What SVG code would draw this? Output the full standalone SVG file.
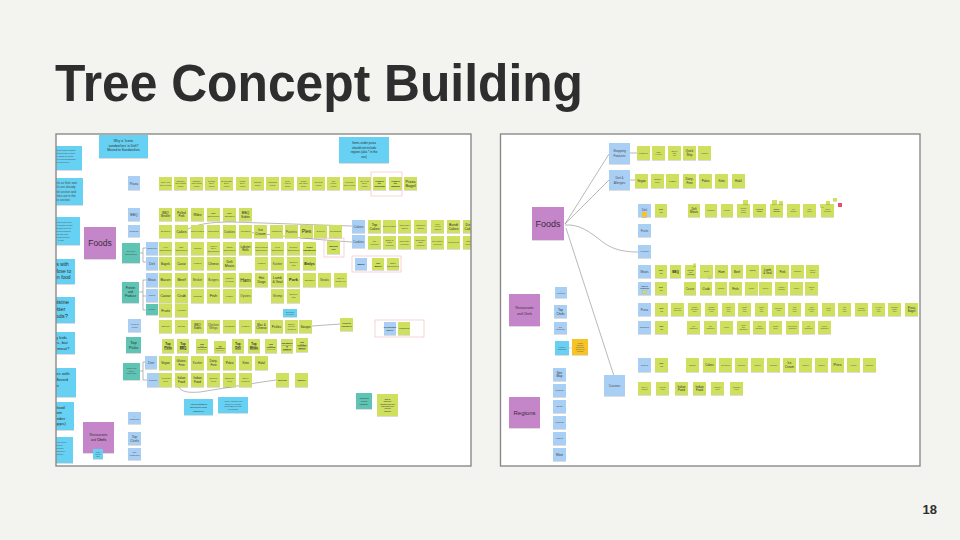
<svg xmlns="http://www.w3.org/2000/svg" width="960" height="540" viewBox="0 0 960 540">
<defs>
<style>
text{font-family:"Liberation Sans",Arial,sans-serif;fill:#4a4a4a;text-anchor:middle;font-size:2.2px}
.g{fill:#cfe05f;filter:url(#sh)}
.b{fill:#a9cff4;filter:url(#sh)}
.c{fill:#66d1f2;filter:url(#sh)}
.t{fill:#5ec4b4;filter:url(#sh)}
.p{fill:#c486c9;filter:url(#sh)}
.y{fill:#f6c425;filter:url(#sh)}
.r{fill:#e8506a}
.k{fill:none;stroke:#f3b7b7;stroke-width:0.6}
.ln{fill:none;stroke:#8a8a8a;stroke-width:0.6}
.f2{font-size:1.8px}.f3{font-size:3px}.f35{font-size:3.5px}.f4{font-size:4px}.f5{font-size:5px}
.d{fill:#2e2e2e}
.bd{font-weight:bold}
.u{text-decoration:underline}
.pt{fill:#3d2b40}
.nt{fill:#2e2e2e;font-size:4.8px}
</style>
<filter id="sh" x="-20%" y="-20%" width="140%" height="150%"><feDropShadow dx="0" dy="0.6" stdDeviation="0.5" flood-color="#000" flood-opacity="0.22"/></filter>
<clipPath id="cl"><rect x="56" y="134" width="415" height="332"/></clipPath>
</defs>
<rect x="0" y="0" width="960" height="540" fill="#f3f3ef"/>
<text x="55" y="101" style="font-size:51px;font-weight:bold;text-anchor:start;fill:#2e2e2e" textLength="528" lengthAdjust="spacingAndGlyphs">Tree Concept Building</text>
<text x="937" y="514" style="font-size:13px;font-weight:bold;text-anchor:end;fill:#2e2e2e">18</text>

<!-- LEFT SCREENSHOT -->
<rect x="56" y="134" width="415" height="332" fill="#ffffff"/>
<g id="left-board" clip-path="url(#cl)">
 <g id="l-connectors">
  <path class="ln" d="M185,231 C195,224 210,222 232,222 L352,226"/>
  <path class="ln" d="M247,232 C280,236 320,240 352,242"/>
  <path class="ln" d="M312,326 L340,324"/>
  <path class="ln" d="M178,386 C181,392 188,393 200,392 L262,382 L276,380"/>
  <path class="ln" d="M140,253 H143 M143,248 V262 M143,248 H146 M143,262 H146"/>
  <path class="ln" d="M139,292 H143 M143,280 V310 M143,280 H146 M143,296 H146 M143,310 H146"/>
  <path class="ln" d="M140,371 H143 M143,362 V380 M143,362 H145 M143,380 H147"/>
 </g>
 <g id="l-notes">
  <rect class="c" x="40" y="146" width="42" height="24"/>
  <text class="f2" x="63" y="151">Why is chicken salad in salads;<tspan x="63" y="154">if the intent is to have a salad</tspan><tspan x="63" y="157">section, salads are already</tspan><tspan x="63" y="160">covered? Keeping salads within</tspan><tspan x="63" y="163">deli? Removed 1.</tspan></text>
  <rect class="c" x="30" y="178" width="53" height="27"/>
  <text style="font-size:3px" x="57" y="184">Why keep Bagels as their own<tspan x="57" y="188.3">section? Bagels are already</tspan><tspan x="57" y="192.6">found in the Deli section and</tspan><tspan x="57" y="196.9">Bagel sandwiches are in the</tspan><tspan x="57" y="201.2">sandwiches section.</tspan></text>
  <rect class="c" x="38" y="217" width="42" height="28"/>
  <text class="f2" x="61" y="223">Why are pickles and olives,<tspan x="61" y="226">and dips in 'Gourmet' section</tspan><tspan x="61" y="229">of Jewish food? Moved to</tspan><tspan x="61" y="232">Deli, 'Gourmet' should be</tspan><tspan x="61" y="235">'all' the other food</tspan><tspan x="61" y="238">categories? Removed</tspan><tspan x="61" y="241">to gifts</tspan></text>
  <rect class="c" x="20" y="259" width="55" height="25"/>
  <text class="nt" x="48" y="266">Why is burritos with<tspan x="48" y="272.5">sandwiches? Move to</tspan><tspan x="48" y="279">Jewish Museum food</tspan></text>
  <rect class="c" x="22" y="297" width="53" height="26"/>
  <text class="nt" style="font-size:5.8px" x="51" y="304">Would cuisine<tspan x="51" y="311">work better</tspan><tspan x="51" y="318">under foods?</tspan></text>
  <rect class="c" x="20" y="332" width="55" height="22"/>
  <text class="nt" style="font-size:4.4px" x="48" y="338.5">Why is hot dog kids<tspan x="48" y="344.3">'for' sandwiches, but</tspan><tspan x="48" y="350.1">hot dogs under meat?</tspan></text>
  <rect class="c" x="20" y="368" width="56" height="29"/>
  <text class="nt" style="font-size:4.4px" x="48" y="375">Why was tamales with<tspan x="48" y="380.8">sandwiches? Moved</tspan><tspan x="48" y="386.6">to Mexican</tspan><tspan x="48" y="392.4">food</tspan></text>
  <rect class="c" x="20" y="402" width="54" height="28"/>
  <text class="nt" style="font-size:4.4px" x="47" y="408.5">Removed seafood<tspan x="47" y="414">Chowders from</tspan><tspan x="47" y="419.5">should to be under</tspan><tspan x="47" y="425">soups (within apps)</tspan></text>
  <rect class="c" x="36" y="437" width="37" height="26"/>
  <text class="f2" x="55" y="443">Should support it as deleted<tspan x="55" y="446">Bakery? Removed</tspan><tspan x="55" y="449">Looks at pickles under</tspan><tspan x="55" y="452">Top Picks, and should be</tspan><tspan x="55" y="455">replaced by seafood</tspan></text>
  <rect class="c" x="99" y="135" width="49" height="23"/>
  <text class="d" style="font-size:3.3px" x="123.5" y="142">Why is 'Iconic<tspan x="123.5" y="146.5">sandwiches' in Deli?</tspan><tspan x="123.5" y="151">Moved to Sandwiches</tspan></text>
  <rect class="c" x="339" y="137" width="50" height="26"/>
  <text class="d" style="font-size:3px" x="364" y="144">Items under pizza<tspan x="364" y="148.5">should not include</tspan><tspan x="364" y="153">regions (aka * in the</tspan><tspan x="364" y="157.5">xxx)</tspan></text>
  <rect class="c" x="283" y="309" width="14" height="8"/>
  <text style="font-size:1.6px" x="290" y="312.5">Should this<tspan x="290" y="314.8">be in deli?</tspan></text>
  <rect class="c" x="184" y="399" width="29" height="16"/>
  <text class="d" style="font-size:2.5px" x="198.5" y="404.5">Add an Eastern<tspan x="198.5" y="408">European food</tspan><tspan x="198.5" y="411.5">category?</tspan></text>
  <rect class="c" x="218" y="397" width="30" height="16"/>
  <text class="f2" x="233" y="402">Add an American Food<tspan x="233" y="404.5">category? Hot dogs,</tspan><tspan x="233" y="407">wings, BBQ etc could</tspan><tspan x="233" y="409.5">be included?</tspan></text>
 </g>
 <g id="l-foods"><rect class="p" x="84" y="227" width="32" height="32"/><text class="pt" style="font-size:8.5px" x="100" y="246">Foods</text></g>
 <g id="l-restaurants"><rect class="p" x="83" y="422" width="31" height="31"/><text class="pt" style="font-size:3.3px" x="98.5" y="436">Restaurants<tspan x="98.5" y="441">and <tspan class="bd">Chefs</tspan></tspan></text>
  <rect class="c" x="93" y="449" width="10" height="10"/><text style="font-size:1.4px" x="98" y="453">Update<tspan x="98" y="455">chefs to</tspan><tspan x="98" y="457">name</tspan></text></g>
 <g id="l-categories">
  <rect class="b" x="128" y="176" width="12" height="14"/><text class="f35" x="134" y="184.5">Pizza</text>
  <rect class="b" x="128" y="208" width="12" height="13"/><text class="f35" x="134" y="216">BBQ</text>
  <rect class="b" x="128" y="225" width="12" height="12"/><text x="134" y="232">Desserts</text>
  <rect class="t" x="122" y="243" width="18" height="20"/><text x="131" y="252">Deli and<tspan x="131" y="255">Sandwiches</tspan></text>
  <rect class="b" x="146" y="242" width="12" height="13"/><text class="f2" x="152" y="249">Sandwiches</text>
  <rect class="b" x="146" y="257" width="12" height="13"/><text class="f35" x="152" y="265">Deli</text>
  <rect class="b" x="146" y="273" width="12" height="14"/><text class="f3" x="152" y="281">Meats</text>
  <rect class="t" x="122" y="282" width="17" height="21"/><text class="f3 d" x="130.5" y="289">Protein<tspan x="130.5" y="293">and</tspan><tspan x="130.5" y="297">Produce</tspan></text>
  <rect class="b" x="146" y="289" width="12" height="13"/><text class="f2" x="152" y="296">Seafood</text>
  <rect class="t" x="146" y="304" width="12" height="11"/><text class="f2" x="152" y="310">Produce</text>
  <rect class="b" x="128" y="319" width="13" height="13"/><text class="f2" x="134.5" y="325">Appetizers<tspan x="134.5" y="327.5">&amp; Sides</tspan></text>
  <rect class="t" x="126" y="337" width="15" height="16"/><text class="f4 d" x="133.5" y="344">Top<tspan x="133.5" y="349">Picks</tspan></text>
  <rect class="t" x="123" y="363" width="17" height="17"/><text class="f2" x="131.5" y="369">Cuisine and<tspan x="131.5" y="371.5">Dietary</tspan><tspan x="131.5" y="374">Restrictions</tspan></text>
  <rect class="b" x="145" y="356" width="12" height="13"/><text class="f35" x="151" y="364">Diet</text>
  <rect class="b" x="147" y="373" width="12" height="14"/><text x="153" y="381">Cuisines</text>
  <rect class="b" x="128" y="412" width="13" height="12"/><text class="f2" x="134.5" y="417">#<tspan x="134.5" y="419.5">Restaurants</tspan></text>
  <rect class="b" x="128" y="432" width="13" height="13"/><text class="f35" x="134.5" y="437.5">Top<tspan x="134.5" y="441.5">Chefs</tspan></text>
  <rect class="b" x="128" y="448" width="13" height="12"/><text class="f2" x="134.5" y="453">New<tspan x="134.5" y="455.5">Restaurants</tspan></text>
  <rect class="b" x="352" y="220" width="13" height="13"/><text class="f35" x="358.5" y="228">Cakes</text>
  <rect class="b" x="352" y="235" width="13" height="13"/><text class="f3" x="358.5" y="243">Cookies</text>
 </g>
 <g id="l-row-pizza" transform="translate(0,177)">
  <rect class="g" x="159" y="0" width="13" height="13"/><rect class="g" x="174" y="0" width="13" height="13"/><rect class="g" x="190" y="0" width="13" height="13"/><rect class="g" x="205" y="0" width="13" height="13"/><rect class="g" x="220" y="0" width="13" height="13"/><rect class="g" x="236" y="0" width="13" height="13"/><rect class="g" x="251" y="0" width="13" height="13"/><rect class="g" x="266" y="0" width="13" height="13"/><rect class="g" x="281" y="0" width="13" height="13"/><rect class="g" x="297" y="0" width="13" height="13"/><rect class="g" x="312" y="0" width="13" height="13"/><rect class="g" x="327" y="0" width="13" height="13"/><rect class="g" x="343" y="0" width="13" height="13"/><rect class="g" x="358" y="0" width="13" height="13"/><rect class="g" x="373" y="0" width="13" height="13"/><rect class="g" x="389" y="0" width="13" height="13"/><rect class="g" x="404" y="0" width="13" height="13"/>
  <text x="165.5" y="5.9">New York<tspan x="165.5" y="8.6">Style Pizza</tspan></text>
  <text x="180.5" y="4.6">Chicago<tspan x="180.5" y="7.2">Deep Dish</tspan><tspan x="180.5" y="9.9">Pizza</tspan></text>
  <text x="196.5" y="4.6">Chicago<tspan x="196.5" y="7.2">Thin Crust</tspan><tspan x="196.5" y="9.9">Pizza</tspan></text>
  <text x="211.5" y="4.6">Roman<tspan x="211.5" y="7.2">Style</tspan><tspan x="211.5" y="9.9">Pizza</tspan></text>
  <text x="226.5" y="4.6">Neapolitan<tspan x="226.5" y="7.2">Style</tspan><tspan x="226.5" y="9.9">Pizza</tspan></text>
  <text x="242.5" y="4.6">Miami<tspan x="242.5" y="7.2">Style</tspan><tspan x="242.5" y="9.9">Pizza</tspan></text>
  <text x="257.5" y="5.9">Sicilian<tspan x="257.5" y="8.6">Pizza</tspan></text>
  <text x="272.5" y="5.9">Grandma<tspan x="272.5" y="8.6">Pizza</tspan></text>
  <text x="287.5" y="4.6">New<tspan x="287.5" y="7.2">Haven</tspan><tspan x="287.5" y="9.9">Pizza</tspan></text>
  <text x="303.5" y="4.6">Quad<tspan x="303.5" y="7.2">City Style</tspan><tspan x="303.5" y="9.9">Pizza</tspan></text>
  <text x="318.5" y="5.9">Mexican<tspan x="318.5" y="8.6">Pizza</tspan></text>
  <text x="333.5" y="4.6">Old<tspan x="333.5" y="7.2">Forge</tspan><tspan x="333.5" y="9.9">Pizza</tspan></text>
  <text x="349.5" y="5.9">Colorado<tspan x="349.5" y="8.6">Style Pizza</tspan></text>
  <text x="364.5" y="4.6">St. Louis<tspan x="364.5" y="7.2">Style</tspan><tspan x="364.5" y="9.9">Pizza</tspan></text>
  <text class="bd d" x="379.5" y="4.6">Pizza in<tspan x="379.5" y="7.2">the</tspan><tspan x="379.5" y="9.9">Northeast</tspan></text>
  <text class="bd d" x="395.5" y="4.6">Pizza in<tspan x="395.5" y="7.2">the</tspan><tspan x="395.5" y="9.9">Midwest</tspan></text>
  <text class="f4 d" x="410.5" y="5.6">Pizza<tspan x="410.5" y="10.2">Bagel</tspan></text>
 </g>
 <rect class="k" x="371" y="172" width="31" height="24"/>
 <g id="l-row-bbq" transform="translate(0,208)">
  <rect class="g" x="159" y="0" width="13" height="13"/><rect class="g" x="175" y="0" width="13" height="13"/><rect class="g" x="191" y="0" width="13" height="13"/><rect class="g" x="207" y="0" width="13" height="13"/><rect class="g" x="223" y="0" width="13" height="13"/><rect class="g" x="239" y="0" width="13" height="13"/>
  <text class="f3 d" x="165.5" y="5.8">BBQ<tspan x="165.5" y="9.3">Brisket</tspan></text>
  <text class="f3 d" x="181.5" y="5.8">Pulled<tspan x="181.5" y="9.3">Pork</tspan></text>
  <text class="f4 d" x="197.5" y="7.9">Ribs</text>
  <text x="213.5" y="5.9">BBQ<tspan x="213.5" y="8.6">Sandwiches</tspan></text>
  <text x="229.5" y="5.9">BBQ<tspan x="229.5" y="8.6">Sausages</tspan></text>
  <text class="f35 d" x="245.5" y="5.7">BBQ<tspan x="245.5" y="9.7">Sides</tspan></text>
 </g>
 <g id="l-row-desserts" transform="translate(0,225)">
  <rect class="g" x="159" y="0" width="13" height="13"/><rect class="g" x="175" y="0" width="13" height="13"/><rect class="g" x="191" y="0" width="13" height="13"/><rect class="g" x="207" y="0" width="13" height="13"/><rect class="g" x="223" y="0" width="13" height="13"/><rect class="g" x="239" y="0" width="13" height="13"/><rect class="g" x="254" y="0" width="13" height="13"/><rect class="g" x="270" y="0" width="13" height="13"/><rect class="g" x="285" y="0" width="13" height="13"/><rect class="g" x="300" y="0" width="13" height="13"/><rect class="g" x="314" y="0" width="13" height="13"/><rect class="g" x="329" y="0" width="13" height="13"/>
  <text x="165.5" y="7.3">Brownies</text>
  <text class="f35 d" x="181.5" y="7.7">Cakes</text>
  <text x="197.5" y="7.3">Cheesecakes</text>
  <text x="213.5" y="7.3">Chocolates</text>
  <text class="f3" x="229.5" y="7.55">Cookies</text>
  <text x="245.5" y="7.3">Cupcakes</text>
  <text class="f35 d" x="260.5" y="5.7">Ice<tspan x="260.5" y="9.7">Cream</tspan></text>
  <text x="276.5" y="7.3">Macarons</text>
  <text class="f3" x="291.5" y="7.55">Pastries</text>
  <text class="f5 d" x="306.5" y="8.25">Pies</text>
  <text x="320.5" y="7.3">S'mores</text>
  <text x="335.5" y="7.3">Doughnuts</text>
 </g>
 <g id="l-row-cakes" transform="translate(0,220)">
  <rect class="g" x="368" y="0" width="13" height="13"/><rect class="g" x="383" y="0" width="13" height="13"/><rect class="g" x="398" y="0" width="13" height="13"/><rect class="g" x="414" y="0" width="13" height="13"/><rect class="g" x="431" y="0" width="13" height="13"/><rect class="g" x="447" y="0" width="13" height="13"/><rect class="g" x="463" y="0" width="13" height="13"/>
  <text class="f35 d" x="374.5" y="5.7">Top<tspan x="374.5" y="9.7">Cakes</tspan></text>
  <text x="389.5" y="7.3">Cheesecakes</text>
  <text x="404.5" y="5.9">Chocolate<tspan x="404.5" y="8.6">Cakes</tspan></text>
  <text x="420.5" y="5.9">Rainbow<tspan x="420.5" y="8.6">Cakes</tspan></text>
  <text x="437.5" y="4.6">Red<tspan x="437.5" y="7.2">Velvet</tspan><tspan x="437.5" y="9.9">Cakes</tspan></text>
  <text class="f35 d" x="453.5" y="5.7">Bundt<tspan x="453.5" y="9.7">Cakes</tspan></text>
  <text class="f35 d" x="469.5" y="5.7">Devil<tspan x="469.5" y="9.7">Cakes</tspan></text>
 </g>
 <g id="l-row-cookies" transform="translate(0,236)">
  <rect class="g" x="368" y="0" width="13" height="13"/><rect class="g" x="383" y="0" width="13" height="13"/><rect class="g" x="398" y="0" width="13" height="13"/><rect class="g" x="414" y="0" width="13" height="13"/><rect class="g" x="431" y="0" width="13" height="13"/><rect class="g" x="447" y="0" width="13" height="13"/><rect class="g" x="463" y="0" width="13" height="13"/>
  <text x="374.5" y="5.9">Top<tspan x="374.5" y="8.6">Cookies</tspan></text>
  <text x="389.5" y="4.6">Black &amp;<tspan x="389.5" y="7.2">White</tspan><tspan x="389.5" y="9.9">Cookies</tspan></text>
  <text x="404.5" y="5.9">Chocolate<tspan x="404.5" y="8.6">Cookies</tspan></text>
  <text x="420.5" y="4.6">Chocolate<tspan x="420.5" y="7.2">Chip</tspan><tspan x="420.5" y="9.9">Cookies</tspan></text>
  <text x="437.5" y="5.9">Decorative<tspan x="437.5" y="8.6">Cookies</tspan></text>
  <text x="453.5" y="7.3">Macaroons</text>
  <text x="469.5" y="5.9">Butter<tspan x="469.5" y="8.6">Cookies</tspan></text>
 </g>
 <g id="l-bagels"><rect class="k" x="352" y="256" width="49" height="16"/>
  <rect class="b" x="355" y="258" width="12" height="12"/><text class="bd d" x="361" y="265">Bagels</text>
  <rect class="g" x="372" y="258" width="12" height="12"/><text class="bd d" x="378" y="263.5">Top<tspan x="378" y="266.5">Bagels</tspan></text>
  <rect class="g" x="387" y="258" width="12" height="12"/><text x="393" y="263.5">Bagel<tspan x="393" y="266.5">Sandwiches</tspan></text></g>
 <g id="l-walking"><rect class="k" x="324" y="238" width="20" height="19"/><rect class="g" x="327" y="241" width="13" height="13"/><text class="bd d" x="333.5" y="246.9">Walking<tspan x="333.5" y="249.6">Kits</tspan></text></g>
 <g id="l-row-sandwiches" transform="translate(0,242)">
  <rect class="g" x="159" y="0" width="13" height="13"/><rect class="g" x="175" y="0" width="13" height="13"/><rect class="g" x="191" y="0" width="13" height="13"/><rect class="g" x="207" y="0" width="13" height="13"/><rect class="g" x="223" y="0" width="13" height="13"/><rect class="g" x="239" y="0" width="13" height="13"/><rect class="g" x="255" y="0" width="13" height="13"/><rect class="g" x="271" y="0" width="13" height="13"/><rect class="g" x="287" y="0" width="13" height="13"/><rect class="g" x="303" y="0" width="13" height="13"/>
  <text x="165.5" y="5.9">Hero<tspan x="165.5" y="8.6">Sandwiches</tspan></text>
  <text x="181.5" y="5.9">BLT<tspan x="181.5" y="8.6">Sandwiches</tspan></text>
  <text x="197.5" y="7.3">Paninis</text>
  <text x="213.5" y="4.6">Grilled<tspan x="213.5" y="7.2">Beef</tspan><tspan x="213.5" y="9.9">Sandwiches</tspan></text>
  <text x="229.5" y="5.9">Italian<tspan x="229.5" y="8.6">Sandwiches</tspan></text>
  <text class="f3 d" x="245.5" y="5.8">Lobster<tspan x="245.5" y="9.3">Rolls</tspan></text>
  <text x="261.5" y="5.9">Cheesesteak<tspan x="261.5" y="8.6">Sandwiches</tspan></text>
  <text x="277.5" y="5.9">Pork<tspan x="277.5" y="8.6">Sandwiches</tspan></text>
  <text x="293.5" y="5.9">Reuben<tspan x="293.5" y="8.6">Sandwiches</tspan></text>
  <text class="bd d" x="309.5" y="5.9">Iconic<tspan x="309.5" y="8.6">Sandwiches</tspan></text>
 </g>
 <g id="l-row-deli" transform="translate(0,257)">
  <rect class="g" x="159" y="0" width="13" height="13"/><rect class="g" x="175" y="0" width="13" height="13"/><rect class="g" x="191" y="0" width="13" height="13"/><rect class="g" x="207" y="0" width="13" height="13"/><rect class="g" x="223" y="0" width="13" height="13"/><rect class="g" x="255" y="0" width="13" height="13"/><rect class="g" x="271" y="0" width="13" height="13"/><rect class="g" x="287" y="0" width="13" height="13"/><rect class="g" x="303" y="0" width="13" height="13"/>
  <text class="f3 d" x="165.5" y="7.55">Bagels</text>
  <text class="f3 d" x="181.5" y="7.55">Caviar</text>
  <text x="197.5" y="7.3">Knishes</text>
  <text class="f3 d" x="213.5" y="7.55">Cheese</text>
  <text class="f35 d" x="229.5" y="5.7">Deli<tspan x="229.5" y="9.7">Meats</tspan></text>
  <text x="261.5" y="7.3">Knishes</text>
  <text class="f3" x="277.5" y="7.55">Kosher</text>
  <text x="293.5" y="5.9">Smoked<tspan x="293.5" y="8.6">Fish</tspan></text>
  <text class="f35 bd d" x="309.5" y="7.7">Bialys</text>
 </g>
 <g id="l-row-meats" transform="translate(0,273)">
  <rect class="g" x="159" y="0" width="13" height="14"/><rect class="g" x="175" y="0" width="13" height="14"/><rect class="g" x="191" y="0" width="13" height="14"/><rect class="g" x="207" y="0" width="13" height="14"/><rect class="g" x="223" y="0" width="13" height="14"/><rect class="g" x="239" y="0" width="13" height="14"/><rect class="g" x="255" y="0" width="13" height="14"/><rect class="g" x="271" y="0" width="13" height="14"/><rect class="g" x="287" y="0" width="13" height="14"/><rect class="g" x="303" y="0" width="13" height="14"/><rect class="g" x="318" y="0" width="13" height="14"/><rect class="g" x="334" y="0" width="13" height="14"/>
  <text class="f35 d" x="165.5" y="8.2">Bacon</text>
  <text class="f4 d" x="181.5" y="8.4">Beef</text>
  <text class="f3" x="197.5" y="8">Brisket</text>
  <text class="f3" x="213.5" y="8">Burgers</text>
  <text x="229.5" y="6.4">Chicken<tspan x="229.5" y="9.1">&amp; Wings</tspan></text>
  <text class="f5 d" x="245.5" y="8.7">Ham</text>
  <text class="f35 d" x="261.5" y="6.2">Hot<tspan x="261.5" y="10.2">Dogs</tspan></text>
  <text class="f35 d" x="277.5" y="6.2">Lamb<tspan x="277.5" y="10.2">&amp; Veal</tspan></text>
  <text class="f4 bd d" x="293.5" y="8.4">Pork</text>
  <text x="309.5" y="7.8">Sausages</text>
  <text class="f3" x="324.5" y="8">Steaks</text>
  <text class="f2" x="340.5" y="6.4">Turkey &amp;<tspan x="340.5" y="8.8">Cornish Hen</tspan></text>
 </g>
 <g id="l-row-seafood" transform="translate(0,289)">
  <rect class="g" x="159" y="0" width="13" height="14"/><rect class="g" x="175" y="0" width="13" height="14"/><rect class="g" x="191" y="0" width="13" height="14"/><rect class="g" x="207" y="0" width="13" height="14"/><rect class="g" x="223" y="0" width="13" height="14"/><rect class="g" x="239" y="0" width="13" height="14"/><rect class="g" x="271" y="0" width="13" height="14"/><rect class="g" x="287" y="0" width="13" height="14"/>
  <text class="f35 d" x="165.5" y="8.2">Caviar</text>
  <text class="f4 d" x="181.5" y="8.4">Crab</text>
  <text x="197.5" y="7.8">Crawfish</text>
  <text class="f4 d" x="213.5" y="8.4">Fish</text>
  <text x="229.5" y="7.8">Lobster</text>
  <text class="f3" x="245.5" y="8">Oysters</text>
  <text class="f3" x="277.5" y="8">Shrimp</text>
  <text x="293.5" y="6.4">Smoked<tspan x="293.5" y="9.1">Fish</tspan></text>
 </g>
 <g id="l-row-produce" transform="translate(0,304)">
  <rect class="g" x="159" y="0" width="13" height="13"/><rect class="g" x="175" y="0" width="13" height="13"/>
  <text class="f35 d" x="165.5" y="7.7">Fruits</text>
  <text class="f2" x="181.5" y="7.2">Vegetables</text>
 </g>
 <g id="l-row-apps" transform="translate(0,320)">
  <rect class="g" x="159" y="0" width="13" height="13"/><rect class="g" x="175" y="0" width="13" height="13"/><rect class="g" x="191" y="0" width="13" height="13"/><rect class="g" x="207" y="0" width="13" height="13"/><rect class="g" x="223" y="0" width="13" height="13"/><rect class="g" x="239" y="0" width="13" height="13"/><rect class="g" x="255" y="0" width="13" height="13"/><rect class="g" x="270" y="0" width="13" height="13"/><rect class="g" x="285" y="0" width="13" height="13"/><rect class="g" x="299" y="0" width="13" height="13"/>
  <text x="165.5" y="7.3">Biscuits</text>
  <text x="181.5" y="7.3">Breads</text>
  <text class="f3 d" x="197.5" y="5.8">BBQ<tspan x="197.5" y="9.3">Sides</tspan></text>
  <text class="f3" x="213.5" y="5.8">Chicken<tspan x="213.5" y="9.3">Wings</tspan></text>
  <text x="229.5" y="7.3">Dressings</text>
  <text x="245.5" y="7.3">Knishes</text>
  <text class="f3 d" x="261.5" y="5.8">Mac &amp;<tspan x="261.5" y="9.3">Cheese</tspan></text>
  <text class="f3 d" x="276.5" y="7.55">Pickles</text>
  <text x="291.5" y="4.6">Savory<tspan x="291.5" y="7.2">Pies &amp;</tspan><tspan x="291.5" y="9.9">Quiches</tspan></text>
  <text class="f35 d" x="305.5" y="7.7">Soups</text>
 </g>
 <g id="l-chowders"><rect class="g" x="340" y="318" width="13" height="13"/><text class="bd" x="346.5" y="323.9">Seafood<tspan x="346.5" y="326.6">Chowders</tspan></text></g>
 <g id="l-market"><rect class="k" x="375" y="320" width="49" height="17"/>
  <rect class="b" x="384" y="322" width="12" height="13"/><text class="bd" x="390" y="327.9">Restaurants<tspan x="390" y="330.6">Market</tspan></text>
  <rect class="g" x="398" y="322" width="12" height="13"/><text class="bd" x="404" y="329.3">Groceries</text></g>
 <g id="l-row-top" transform="translate(0,339)">
  <rect class="g" x="162" y="0" width="12" height="14"/><rect class="g" x="177" y="0" width="12" height="14"/><rect class="g" x="196" y="0" width="12" height="14"/><rect class="g" x="214" y="2" width="12" height="12"/><rect class="g" x="232" y="0" width="12" height="14"/><rect class="g" x="248" y="0" width="12" height="14"/><rect class="g" x="265" y="0" width="12" height="14"/><rect class="g" x="281" y="0" width="12" height="14"/><rect class="g" x="296" y="-1" width="12" height="14"/>
  <text class="f3 bd u d" x="168" y="6.2">Top<tspan x="168" y="9.7">Pizza</tspan></text>
  <text class="f3 bd u d" x="183" y="6.2">Top<tspan x="183" y="9.7">BBQ</tspan></text>
  <text class="bd u d" x="202" y="6.4">Top<tspan x="202" y="9.1">Desserts</tspan></text>
  <text class="bd u d" style="font-size:1.6px" x="220" y="7.8">Top<tspan x="220" y="10">Sandwiches</tspan></text>
  <text class="f3 bd u d" x="238" y="6.2">Top<tspan x="238" y="9.7">Deli</tspan></text>
  <text class="f3 bd u d" x="254" y="6.2">Top<tspan x="254" y="9.7">Meats</tspan></text>
  <text class="bd u d" x="271" y="6.4">Top<tspan x="271" y="9.1">Seafood</tspan></text>
  <text class="bd u d" x="287" y="5.1">Top Bakes<tspan x="287" y="7.8">&amp;</tspan><tspan x="287" y="10.5">Pastries</tspan></text>
  <text class="bd u d" x="302" y="4.1">Top<tspan x="302" y="6.8">Gourmet</tspan><tspan x="302" y="9.5">Market</tspan></text>
 </g>
 <g id="l-row-diet" transform="translate(0,356)">
  <rect class="g" x="159" y="0" width="13" height="14"/><rect class="g" x="175" y="0" width="13" height="14"/><rect class="g" x="191" y="0" width="13" height="14"/><rect class="g" x="207" y="0" width="13" height="14"/><rect class="g" x="223" y="0" width="13" height="14"/><rect class="g" x="239" y="0" width="13" height="14"/><rect class="g" x="255" y="0" width="13" height="14"/>
  <text class="f3 d" x="165.5" y="8">Vegan</text>
  <text class="f3 d" x="181.5" y="6.3">Gluten-<tspan x="181.5" y="9.8">Free</tspan></text>
  <text class="f3" x="197.5" y="8">Kosher</text>
  <text class="f3 d" x="213.5" y="6.3">Dairy-<tspan x="213.5" y="9.8">Free</tspan></text>
  <text class="f3 d" x="229.5" y="8">Paleo</text>
  <text class="f3 d" x="245.5" y="8">Keto</text>
  <text class="f3 d" x="261.5" y="8">Halal</text>
 </g>
 <g id="l-row-cuisine" transform="translate(0,373)">
  <rect class="g" x="159" y="0" width="13" height="14"/><rect class="g" x="175" y="0" width="13" height="14"/><rect class="g" x="191" y="0" width="13" height="14"/><rect class="g" x="207" y="0" width="13" height="14"/><rect class="g" x="223" y="0" width="13" height="14"/><rect class="g" x="239" y="0" width="13" height="14"/><rect class="g" x="276" y="0" width="13" height="14"/><rect class="g" x="295" y="0" width="13" height="14"/>
  <text x="165.5" y="6.4">American<tspan x="165.5" y="9.1">Food</tspan></text>
  <text class="f3 d" x="181.5" y="6.3">Italian<tspan x="181.5" y="9.8">Food</tspan></text>
  <text class="f3 d" x="197.5" y="6.3">Indian<tspan x="197.5" y="9.8">Food</tspan></text>
  <text x="213.5" y="6.4">Chinese<tspan x="213.5" y="9.1">Food</tspan></text>
  <text x="229.5" y="6.4">Japanese<tspan x="229.5" y="9.1">Food</tspan></text>
  <text x="245.5" y="6.4">Street<tspan x="245.5" y="9.1">Cuisines</tspan></text>
  <text class="bd" x="282.5" y="7.8">Burritos</text>
  <text class="bd" x="301.5" y="7.8">Tamales</text>
 </g>
 <g id="l-legend">
  <rect class="t" x="356" y="393" width="16" height="16"/><text class="d" style="font-size:2.3px" x="364" y="398.5">Indicates<tspan x="364" y="401.5">a new</tspan><tspan x="364" y="404.5">category</tspan></text>
  <rect class="g" x="377" y="394" width="21" height="22"/><text class="bd" style="font-size:1.7px" x="387.5" y="400">Bolded</text><text class="bd" style="font-size:1.7px" x="387.5" y="402.3">underline</text><text class="bd" style="font-size:1.7px" x="387.5" y="404.6">indicates top-level</text><text class="bd" style="font-size:1.7px" x="387.5" y="406.9">new brand-level</text><text class="bd" style="font-size:1.7px" x="387.5" y="409.2">section</text><text class="bd" style="font-size:1.7px" x="387.5" y="411.5">category</text>
 </g>
</g>
<rect x="56" y="134" width="415" height="332" fill="none" stroke="#8a8a8a" stroke-width="1.4"/>

<!-- RIGHT SCREENSHOT -->
<rect x="500.5" y="134" width="419.5" height="332" fill="#ffffff" stroke="#8a8a8a" stroke-width="1.4"/>
<g id="right-board">
 <g id="r-connectors">
  <path class="ln" d="M565,224 L609,154"/>
  <path class="ln" d="M565,224 L609,180"/>
  <path class="ln" d="M565,225 C580,224 590,232 604,243 C614,250 625,252 638,252"/>
  <path class="ln" d="M566,228 L614,376"/>
  <path class="ln" d="M630,153 H637"/>
  <path class="ln" d="M630,180 H635"/>
  <path class="ln" d="M569,348 H572" stroke-dasharray="1 0.6"/>
 </g>
 <g id="r-foods"><rect class="p" x="532" y="207" width="32" height="33"/><text class="pt" style="font-size:9px" x="548" y="227">Foods</text></g>
 <g id="r-restaurants"><rect class="p" x="509" y="294" width="31" height="32"/><text class="pt" style="font-size:3.3px" x="524.5" y="308.5">Restaurants<tspan x="524.5" y="314.5">and Chefs</tspan></text></g>
 <g id="r-regions"><rect class="p" x="509" y="397" width="31" height="31"/><text class="pt" style="font-size:6px" x="524.5" y="414.5">Regions</text></g>
 <g id="r-shopping"><rect class="b" x="609" y="143" width="21" height="21"/><text class="f3" x="619.5" y="152">Shopping<tspan x="619.5" y="156.5">Features</tspan></text></g>
 <g id="r-diet"><rect class="b" x="609" y="170" width="21" height="20"/><text class="f3" x="619.5" y="179">Diet &amp;<tspan x="619.5" y="183.5">Allergies</tspan></text></g>
 <g id="r-cuisines"><rect class="b" x="604" y="375" width="21" height="21"/><text class="f3" x="614.5" y="386.5">Cuisines</text></g>
 <g id="r-cats">
  <rect class="b" x="638" y="204" width="13" height="13"/><text class="f3" x="644.5" y="210.5">Deli</text><rect class="y" x="642" y="212" width="5" height="5"/>
  <rect class="b" x="638" y="224" width="13" height="13"/><text class="f3" x="644.5" y="231.5">Fruits</text>
  <rect class="b" x="638" y="245" width="13" height="13"/><text style="font-size:1.7px" x="644.5" y="252">Vegetables</text>
  <rect class="b" x="638" y="265" width="13" height="13"/><text class="f3" x="644.5" y="272.5">Meats</text>
  <rect class="b" x="638" y="282" width="13" height="13"/><text class="bd" x="644.5" y="286.5">Fish &amp;<tspan x="644.5" y="289">Seafood</tspan></text><rect x="642.5" y="290.5" width="4" height="3" fill="#cfe05f" stroke="#999" stroke-width="0.2"/>
  <rect class="b" x="638" y="303" width="13" height="13"/><text class="f3" x="644.5" y="310.5">Pizza</text>
  <rect class="b" x="638" y="321" width="13" height="13"/><text style="font-size:1.7px" x="644.5" y="328">Sandwiches</text>
  <rect class="b" x="638" y="358" width="13" height="14"/><text style="font-size:1.8px" x="644.5" y="365.5">Desserts</text>
 </g>
 <g id="r-rest-col">
  <rect class="b" x="555" y="287" width="12" height="11"/><text style="font-size:1.5px" x="561" y="292">#<tspan x="561" y="294">Restaurants</tspan></text>
  <rect class="b" x="554" y="305" width="13" height="13"/><text class="f3 d" x="560.5" y="310.5">Top<tspan x="560.5" y="314.5">Chefs</tspan></text>
  <rect class="b" x="554" y="322" width="13" height="12"/><text style="font-size:1.6px" x="560.5" y="327.5">New<tspan x="560.5" y="329.5">Restaurants</tspan></text>
  <rect class="c" x="555" y="341" width="14" height="14"/><text style="font-size:1.6px" x="562" y="347.5">Featured<tspan x="562" y="349.5">Restaurants</tspan></text>
  <rect class="y" x="572" y="339" width="16" height="16"/><text style="font-size:1.4px" x="580" y="344">Available<tspan x="580" y="346">categories</tspan><tspan x="580" y="348">across EATS</tspan><tspan x="580" y="350">category &amp; top</tspan><tspan x="580" y="352">like pages</tspan></text>
 </g>
 <g id="r-regions-col">
  <rect class="b" x="553" y="368" width="13" height="13"/><text class="f3 d" x="559.5" y="373.8">See<tspan x="559.5" y="377.3">Map</tspan></text>
  <rect class="b" x="553" y="384" width="13" height="13"/><text style="font-size:1.8px" x="559.5" y="391">Northeast</text>
  <rect class="b" x="553" y="400" width="13" height="13"/><text style="font-size:2.3px" x="559.5" y="407.3">South</text>
  <rect class="b" x="553" y="416" width="13" height="13"/><text style="font-size:1.8px" x="559.5" y="423">Southeast</text>
  <rect class="b" x="553" y="432" width="13" height="13"/><text style="font-size:1.8px" x="559.5" y="439">Midwest</text>
  <rect class="b" x="553" y="448" width="13" height="13"/><text class="f3 d" x="559.5" y="455.5">West</text>
 </g>
 <g id="r-row-shopping" transform="translate(0,146)">
  <rect class="g" x="637" y="0" width="13" height="14"/><rect class="g" x="652" y="0" width="13" height="14"/><rect class="g" x="668" y="0" width="13" height="14"/><rect class="g" x="683" y="0" width="13" height="14"/><rect class="g" x="698" y="0" width="13" height="14"/>
  <text style="font-size:1.7px" x="643.5" y="7.6">Bestsellers</text>
  <text style="font-size:1.7px" x="658.5" y="6.5">Shop<tspan x="658.5" y="8.7">by Price</tspan></text>
  <text style="font-size:1.7px" x="674.5" y="5.5">Shop by<tspan x="674.5" y="7.7">Party</tspan><tspan x="674.5" y="9.9">size</tspan></text>
  <text class="f3 d" x="689.5" y="6.3">Quick<tspan x="689.5" y="9.8">Ship</tspan></text>
  <text style="font-size:1.7px" x="704.5" y="7.6">Featured</text>
 </g>
 <g id="r-row-diet" transform="translate(0,174)">
  <rect class="g" x="635" y="0" width="13" height="14"/><rect class="g" x="651" y="0" width="13" height="14"/><rect class="g" x="666" y="0" width="13" height="14"/><rect class="g" x="683" y="0" width="13" height="14"/><rect class="g" x="699" y="0" width="13" height="14"/><rect class="g" x="715" y="0" width="13" height="14"/><rect class="g" x="732" y="0" width="13" height="14"/>
  <text class="f3 d" x="641.5" y="8">Vegan</text>
  <text class="d" x="657.5" y="6.4">Gluten<tspan x="657.5" y="9.1">Free</tspan></text>
  <text class="d" x="672.5" y="7.8">Kosher</text>
  <text class="f3 d" x="689.5" y="6.3">Dairy-<tspan x="689.5" y="9.8">Free</tspan></text>
  <text class="f3 d" x="705.5" y="8">Paleo</text>
  <text class="f3 d" x="721.5" y="8">Keto</text>
  <text class="f3 d" x="738.5" y="8">Halal</text>
 </g>
 <g id="r-row-deli" transform="translate(0,204)">
  <rect class="g" x="655" y="0" width="12" height="13"/><rect class="g" x="688" y="0" width="12" height="13"/><rect class="g" x="705" y="0" width="12" height="13"/><rect class="g" x="721" y="0" width="12" height="13"/><rect class="g" x="737" y="0" width="13" height="13"/><rect class="g" x="753" y="0" width="13" height="13"/><rect class="g" x="770" y="0" width="13" height="13"/><rect class="g" x="787" y="0" width="13" height="13"/><rect class="g" x="803" y="0" width="13" height="13"/><rect class="g" x="821" y="0" width="13" height="13"/>
  <rect class="g" x="743" y="-4" width="5" height="4"/><rect class="g" x="772" y="-4" width="5" height="4"/><rect class="g" x="779" y="-3" width="4" height="3"/><rect class="g" x="826" y="-3" width="4" height="3"/><rect class="g" x="833" y="-6" width="4" height="3"/><rect class="g" x="820" y="0" width="4" height="3"/><rect class="r" x="838" y="-1" width="4" height="4"/>
  <text class="bd d" x="661" y="5.9">See<tspan x="661" y="8.6">All</tspan></text>
  <text class="f3 d" x="694" y="5.8">Deli<tspan x="694" y="9.3">Meats</tspan></text>
  <text style="font-size:1.7px" x="711" y="7.3">Glassware</text>
  <text style="font-size:1.7px" x="727" y="7.3">Cheese</text>
  <text style="font-size:1.5px" x="743.5" y="5">Specialty<tspan x="743.5" y="7">Pick &amp;</tspan><tspan x="743.5" y="9">Choose</tspan></text>
  <text class="bd" style="font-size:1.7px" x="759.5" y="6">Soups &amp;<tspan x="759.5" y="8.4">Salads</tspan></text>
  <text class="bd" style="font-size:1.7px" x="776.5" y="6">Bagels<tspan x="776.5" y="8.4">&amp; Bread</tspan></text>
  <text style="font-size:1.5px" x="793.5" y="6">Gift<tspan x="793.5" y="8">Baskets</tspan></text>
  <text style="font-size:1.5px" x="809.5" y="6">Party<tspan x="809.5" y="8">Platters</tspan></text>
  <text style="font-size:1.5px" x="827.5" y="6">Jewish<tspan x="827.5" y="8">Specialties</tspan></text>
 </g>
 <g id="r-row-meats" transform="translate(0,265)">
  <rect class="g" x="655" y="0" width="12" height="13"/><rect class="g" x="670" y="0" width="11" height="13"/><rect class="g" x="685" y="0" width="11" height="13"/><rect class="g" x="700" y="0" width="13" height="13"/><rect class="g" x="715" y="0" width="13" height="13"/><rect class="g" x="731" y="0" width="12" height="13"/><rect class="g" x="746" y="0" width="13" height="13"/><rect class="g" x="761" y="0" width="13" height="13"/><rect class="g" x="776" y="0" width="13" height="13"/><rect class="g" x="791" y="0" width="13" height="13"/><rect class="g" x="806" y="0" width="13" height="13"/>
  <rect class="g" x="693" y="-1.5" width="3" height="2.5"/><rect x="708" y="11" width="3" height="3" fill="#cfe05f" stroke="#999" stroke-width="0.2"/>
  <text class="bd d" x="661" y="5.9">See<tspan x="661" y="8.6">All</tspan></text>
  <text class="f3 bd d" x="675.5" y="7.55">BBQ</text>
  <text class="bd" style="font-size:1.6px" x="690.5" y="5.5">Hot Dog<tspan x="690.5" y="7.5">Grill</tspan><tspan x="690.5" y="10">Hot Dogs</tspan></text>
  <text style="font-size:1.8px" x="706.5" y="7.2">Bacon</text>
  <text class="f3 d" x="721.5" y="7.55">Ham</text>
  <text class="f3 d" x="737" y="7.55">Beef</text>
  <text class="bd" style="font-size:1.6px" x="752.5" y="6">Chicken</text>
  <text class="f3 d" x="767.5" y="5.8">Lamb<tspan x="767.5" y="9.3">&amp; Veal</tspan></text>
  <text class="f3 d" x="782.5" y="7.55">Pork</text>
  <text style="font-size:1.6px" x="797.5" y="7.2">Sausages</text>
  <text style="font-size:1.5px" x="812.5" y="6">Turkey &amp;<tspan x="812.5" y="8">Cornish</tspan></text>
 </g>
 <g id="r-row-fish" transform="translate(0,282)">
  <rect class="g" x="655" y="0" width="12" height="13"/><rect class="g" x="684" y="0" width="12" height="13"/><rect class="g" x="700" y="0" width="12" height="13"/><rect class="g" x="715" y="0" width="12" height="13"/><rect class="g" x="729" y="0" width="13" height="13"/><rect class="g" x="745" y="0" width="13" height="13"/><rect class="g" x="759" y="0" width="13" height="13"/><rect class="g" x="775" y="0" width="13" height="13"/><rect class="g" x="790" y="0" width="13" height="13"/><rect class="g" x="805" y="0" width="13" height="13"/>
  <text class="bd d" x="661" y="5.9">See<tspan x="661" y="8.6">All</tspan></text>
  <text class="f3" x="690" y="7.55">Caviar</text>
  <text class="f35 d" x="706" y="7.7">Crab</text>
  <text style="font-size:1.6px" x="721" y="7.2">Crawfish</text>
  <text class="f35 d" x="735.5" y="7.7">Fish</text>
  <text style="font-size:1.6px" x="751.5" y="7.2">Lobster</text>
  <text style="font-size:1.6px" x="765.5" y="7.2">Oysters</text>
  <text style="font-size:1.5px" x="781.5" y="6">Seafood<tspan x="781.5" y="8">Chowders</tspan></text>
  <text style="font-size:1.6px" x="796.5" y="7.2">Shrimp</text>
  <text style="font-size:1.5px" x="811.5" y="6">Smoked<tspan x="811.5" y="8">Fish</tspan></text>
 </g>
 <g id="r-row-pizza" transform="translate(0,303)">
  <rect class="g" x="655" y="0" width="13" height="13"/><rect class="g" x="671" y="0" width="13" height="13"/><rect class="g" x="688" y="0" width="13" height="13"/><rect class="g" x="705" y="0" width="13" height="13"/><rect class="g" x="722" y="0" width="13" height="13"/><rect class="g" x="738" y="0" width="13" height="13"/><rect class="g" x="755" y="0" width="13" height="13"/><rect class="g" x="772" y="0" width="13" height="13"/><rect class="g" x="788" y="0" width="13" height="13"/><rect class="g" x="805" y="0" width="13" height="13"/><rect class="g" x="822" y="0" width="13" height="13"/><rect class="g" x="838" y="0" width="13" height="13"/><rect class="g" x="855" y="0" width="13" height="13"/><rect class="g" x="872" y="0" width="13" height="13"/><rect class="g" x="888" y="0" width="13" height="13"/><rect class="g" x="905" y="0" width="13" height="13"/>
  <text class="bd d" x="661.5" y="5.9">See<tspan x="661.5" y="8.6">All</tspan></text>
  <text style="font-size:1.5px" x="677.5" y="6">New York<tspan x="677.5" y="8">Style Pizza</tspan></text>
  <text style="font-size:1.5px" x="694.5" y="5">Chicago<tspan x="694.5" y="7">Deep Dish</tspan><tspan x="694.5" y="9">Pizza</tspan></text>
  <text style="font-size:1.5px" x="711.5" y="5">Chicago<tspan x="711.5" y="7">Thin Crust</tspan><tspan x="711.5" y="9">Pizza</tspan></text>
  <text style="font-size:1.5px" x="728.5" y="5">Detroit<tspan x="728.5" y="7">Style</tspan><tspan x="728.5" y="9">Pizza</tspan></text>
  <text style="font-size:1.5px" x="744.5" y="5">Roman<tspan x="744.5" y="7">Style</tspan><tspan x="744.5" y="9">Pizza</tspan></text>
  <text style="font-size:1.5px" x="761.5" y="5">Modern<tspan x="761.5" y="7">Style</tspan><tspan x="761.5" y="9">Pizza</tspan></text>
  <text style="font-size:1.5px" x="778.5" y="6">Neapolitan<tspan x="778.5" y="8">Pizza</tspan></text>
  <text style="font-size:1.5px" x="794.5" y="5">New<tspan x="794.5" y="7">Haven</tspan><tspan x="794.5" y="9">Pizza</tspan></text>
  <text style="font-size:1.5px" x="811.5" y="5">Quad<tspan x="811.5" y="7">City Style</tspan><tspan x="811.5" y="9">Pizza</tspan></text>
  <text style="font-size:1.5px" x="828.5" y="6">Sicilian<tspan x="828.5" y="8">Pizza</tspan></text>
  <text style="font-size:1.5px" x="844.5" y="5">Old<tspan x="844.5" y="7">Forge</tspan><tspan x="844.5" y="9">Pizza</tspan></text>
  <text style="font-size:1.5px" x="861.5" y="6">Colorado<tspan x="861.5" y="8">Style Pizza</tspan></text>
  <text style="font-size:1.5px" x="878.5" y="5">St. Louis<tspan x="878.5" y="7">Style</tspan><tspan x="878.5" y="9">Pizza</tspan></text>
  <text style="font-size:1.5px" x="894.5" y="5">Nebraska<tspan x="894.5" y="7">Square</tspan><tspan x="894.5" y="9">Pizza</tspan></text>
  <text class="f3 d" x="911.5" y="5.8">Pizza<tspan x="911.5" y="9.3">Bagel</tspan></text>
 </g>
 <g id="r-row-sandwiches" transform="translate(0,321)">
  <rect class="g" x="655" y="0" width="13" height="13"/><rect class="g" x="687" y="0" width="13" height="13"/><rect class="g" x="704" y="0" width="13" height="13"/><rect class="g" x="720" y="0" width="13" height="13"/><rect class="g" x="737" y="0" width="13" height="13"/><rect class="g" x="753" y="0" width="13" height="13"/><rect class="g" x="769" y="0" width="13" height="13"/><rect class="g" x="786" y="0" width="13" height="13"/><rect class="g" x="802" y="0" width="13" height="13"/><rect class="g" x="818" y="0" width="13" height="13"/>
  <text class="bd d" x="661.5" y="5.9">See<tspan x="661.5" y="8.6">All</tspan></text>
  <text style="font-size:1.5px" x="693.5" y="6">Hero<tspan x="693.5" y="8">Sandwiches</tspan></text>
  <text style="font-size:1.5px" x="710.5" y="6">BLT<tspan x="710.5" y="8">Sandwiches</tspan></text>
  <text style="font-size:1.5px" x="726.5" y="7">Paninis</text>
  <text style="font-size:1.5px" x="743.5" y="5">Grilled<tspan x="743.5" y="7">Beef</tspan><tspan x="743.5" y="9">Sandwiches</tspan></text>
  <text style="font-size:1.5px" x="759.5" y="6">Italian<tspan x="759.5" y="8">Sandwiches</tspan></text>
  <text style="font-size:1.7px" x="775.5" y="6">Lobster<tspan x="775.5" y="8.4">Rolls</tspan></text>
  <text style="font-size:1.5px" x="792.5" y="6">Cheesesteak<tspan x="792.5" y="8">Sandwiches</tspan></text>
  <text style="font-size:1.5px" x="808.5" y="6">Pork<tspan x="808.5" y="8">Sandwiches</tspan></text>
  <text style="font-size:1.5px" x="824.5" y="6">Reuben<tspan x="824.5" y="8">Sandwiches</tspan></text>
 </g>
 <g id="r-row-desserts" transform="translate(0,358)">
  <rect class="g" x="655" y="0" width="13" height="14"/><rect class="g" x="686" y="0" width="13" height="14"/><rect class="g" x="703" y="0" width="13" height="14"/><rect class="g" x="719" y="0" width="13" height="14"/><rect class="g" x="735" y="0" width="13" height="14"/><rect class="g" x="751" y="0" width="13" height="14"/><rect class="g" x="767" y="0" width="13" height="14"/><rect class="g" x="783" y="0" width="13" height="14"/><rect class="g" x="799" y="0" width="13" height="14"/><rect class="g" x="815" y="0" width="13" height="14"/><rect class="g" x="831" y="0" width="13" height="14"/><rect class="g" x="847" y="0" width="13" height="14"/><rect class="g" x="863" y="0" width="13" height="14"/>
  <text class="bd d" x="661.5" y="6.4">See<tspan x="661.5" y="9.1">All</tspan></text>
  <text style="font-size:1.6px" x="692.5" y="7.6">Brownies</text>
  <text class="f3 d" x="709.5" y="8">Cakes</text>
  <text style="font-size:1.5px" x="725.5" y="7.6">Cheesecakes</text>
  <text style="font-size:1.5px" x="741.5" y="7.6">Chocolates</text>
  <text style="font-size:1.7px" x="757.5" y="7.6">Cookies</text>
  <text style="font-size:1.6px" x="773.5" y="7.6">Cupcakes</text>
  <text class="f3 d" x="789.5" y="6.3">Ice<tspan x="789.5" y="9.8">Cream</tspan></text>
  <text style="font-size:1.5px" x="805.5" y="7.6">Macarons</text>
  <text style="font-size:1.7px" x="821.5" y="7.6">Pastries</text>
  <text class="f4 d" x="837.5" y="8.4">Pies</text>
  <text style="font-size:1.6px" x="853.5" y="7.6">S'mores</text>
  <text style="font-size:1.5px" x="869.5" y="7.6">Doughnuts</text>
 </g>
 <g id="r-row-cuisine" transform="translate(0,382)">
  <rect class="g" x="638" y="0" width="13" height="13"/><rect class="g" x="656" y="0" width="13" height="13"/><rect class="g" x="675" y="0" width="13" height="13"/><rect class="g" x="693" y="0" width="13" height="13"/><rect class="g" x="711" y="0" width="13" height="13"/><rect class="g" x="730" y="0" width="13" height="13"/>
  <text style="font-size:1.6px" x="644.5" y="6">Shop All<tspan x="644.5" y="8">Cuisines</tspan></text>
  <text style="font-size:1.7px" x="662.5" y="6">Mexican<tspan x="662.5" y="8.2">Food</tspan></text>
  <text class="f3 d" x="681.5" y="5.8">Italian<tspan x="681.5" y="9.3">Food</tspan></text>
  <text class="f3 d" x="699.5" y="5.8">Indian<tspan x="699.5" y="9.3">Food</tspan></text>
  <text style="font-size:1.7px" x="717.5" y="6">Chinese<tspan x="717.5" y="8.2">Food</tspan></text>
  <text style="font-size:1.7px" x="736.5" y="6">Japanese<tspan x="736.5" y="8.2">Food</tspan></text>
 </g>
</g>
</svg>
